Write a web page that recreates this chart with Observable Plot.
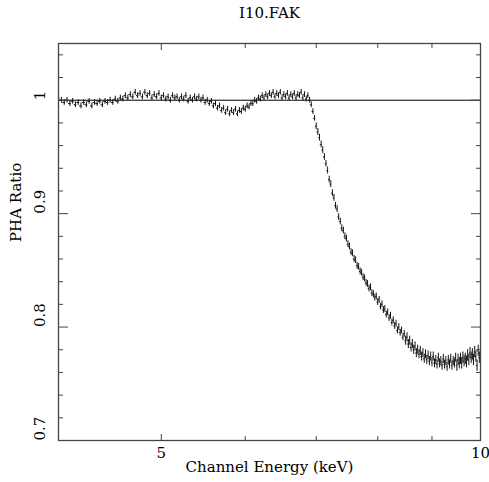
<!DOCTYPE html>
<html><head><meta charset="utf-8">
<script src="https://cdn.jsdelivr.net/npm/d3@7"></script>
<script src="https://cdn.jsdelivr.net/npm/@observablehq/plot@0.6"></script>
<style>html,body{margin:0;padding:0;background:#fff}svg{display:block}</style>
</head><body><div id="chart"></div>
<script>
// Channel energies (keV)
const energy = [
 4.000,4.025,4.050,4.075,4.100,4.125,4.150,4.175,
 4.200,4.225,4.250,4.275,4.300,4.325,4.350,4.375,
 4.400,4.425,4.450,4.475,4.500,4.525,4.550,4.575,
 4.600,4.625,4.650,4.675,4.700,4.725,4.750,4.775,
 4.800,4.825,4.850,4.875,4.900,4.925,4.950,4.975,
 5.000,5.025,5.050,5.075,5.100,5.125,5.150,5.175,
 5.200,5.225,5.250,5.275,5.300,5.325,5.350,5.375,
 5.400,5.425,5.450,5.475,5.500,5.525,5.550,5.575,
 5.600,5.625,5.650,5.675,5.700,5.725,5.750,5.775,
 5.800,5.825,5.850,5.875,5.900,5.925,5.950,5.975,
 6.000,6.025,6.050,6.075,6.100,6.125,6.150,6.175,
 6.200,6.225,6.250,6.275,6.300,6.325,6.350,6.375,
 6.400,6.425,6.450,6.475,6.500,6.525,6.550,6.575,
 6.600,6.625,6.650,6.675,6.700,6.725,6.750,6.775,
 6.800,6.825,6.850,6.875,6.900,6.925,6.950,6.975,
 7.000,7.025,7.050,7.075,7.100,7.125,7.150,7.175,
 7.200,7.225,7.250,7.275,7.300,7.325,7.350,7.375,
 7.400,7.425,7.450,7.475,7.500,7.525,7.550,7.575,
 7.600,7.625,7.650,7.675,7.700,7.725,7.750,7.775,
 7.800,7.825,7.850,7.875,7.900,7.925,7.950,7.975,
 8.000,8.025,8.050,8.075,8.100,8.125,8.150,8.175,
 8.200,8.225,8.250,8.275,8.300,8.325,8.350,8.375,
 8.400,8.425,8.450,8.475,8.500,8.525,8.550,8.575,
 8.600,8.625,8.650,8.675,8.700,8.725,8.750,8.775,
 8.800,8.825,8.850,8.875,8.900,8.925,8.950,8.975,
 9.000,9.025,9.050,9.075,9.100,9.125,9.150,9.175,
 9.200,9.225,9.250,9.275,9.300,9.325,9.350,9.375,
 9.400,9.425,9.450,9.475,9.500,9.525,9.550,9.575,
 9.600,9.625,9.650,9.675,9.700,9.725,9.750,9.775,
 9.800,9.825,9.850,9.875,9.900,9.925,9.950,9.975,
 10.000
];
// PHA ratio per channel
const ratio = [
 1.002,1.000,0.998,1.000,0.997,0.999,0.996,0.998,
 0.995,0.998,0.996,0.999,0.995,0.998,0.997,0.999,
 0.996,0.999,0.998,1.000,0.998,1.001,0.999,1.002,
 1.001,1.004,1.002,1.005,1.003,1.007,1.004,1.006,
 1.003,1.007,1.004,1.006,1.002,1.005,1.003,1.006,
 1.002,1.004,1.001,1.003,1.000,1.004,1.002,1.003,
 1.000,1.003,1.001,1.004,0.999,1.002,1.000,1.003,
 1.001,1.003,1.000,1.002,0.998,1.000,0.997,0.999,
 0.995,0.997,0.993,0.995,0.991,0.993,0.989,0.992,
 0.988,0.991,0.989,0.992,0.988,0.991,0.990,0.993,
 0.992,0.995,0.994,0.997,0.997,1.000,0.999,1.002,
 1.001,1.004,1.002,1.005,1.003,1.006,1.004,1.007,
 1.003,1.006,1.004,1.007,1.002,1.005,1.003,1.006,
 1.002,1.005,1.003,1.006,1.002,1.005,1.004,1.007,
 1.002,1.005,1.001,1.004,1.000,0.996,0.990,0.984,
 0.977,0.972,0.967,0.961,0.956,0.950,0.944,0.938,
 0.930,0.926,0.918,0.914,0.907,0.904,0.897,0.893,
 0.887,0.885,0.880,0.878,0.873,0.871,0.866,0.865,
 0.860,0.859,0.854,0.853,0.849,0.848,0.844,0.843,
 0.839,0.838,0.834,0.835,0.830,0.829,0.826,0.827,
 0.822,0.824,0.818,0.820,0.815,0.816,0.811,0.813,
 0.808,0.810,0.804,0.806,0.801,0.803,0.797,0.800,
 0.795,0.797,0.791,0.794,0.788,0.791,0.785,0.788,
 0.782,0.785,0.780,0.783,0.777,0.780,0.776,0.779,
 0.774,0.777,0.772,0.776,0.771,0.775,0.770,0.774,
 0.769,0.774,0.768,0.771,0.767,0.773,0.768,0.770,
 0.766,0.772,0.767,0.770,0.765,0.771,0.767,0.772,
 0.766,0.770,0.768,0.773,0.766,0.771,0.768,0.772,
 0.768,0.773,0.770,0.772,0.769,0.775,0.771,0.777,
 0.773,0.776,0.771,0.778,0.774,0.766,0.779,0.773,
 0.777
];
// 1-sigma error level per energy band (band upper edges in keV)
const errorBandEdges = [7.0, 8.5, 9.5, 10.1];
const errorBandLevels = [0.0025, 0.003, 0.004, 0.005];
const halfBin = 0.0125;
const xMajor = [5, 10];
const xMinor = [6, 7, 8, 9];
const yMajor = [0.7, 0.8, 0.9, 1.0];
const yMinor = [0.72,0.74,0.76,0.78,0.82,0.84,0.86,0.88,0.92,0.94,0.96,0.98,1.02,1.04];
const refLine = [1];
const titleText = "I10.FAK";
const xLabel = "Channel Energy (keV)";
const yLabel = "PHA Ratio";

const errFor = e => errorBandLevels[errorBandEdges.findIndex(b => e < b)];
const data = energy.map((e, i) => ({e, r: ratio[i], s: errFor(e)}));
const ff = "DejaVu Serif";
const fs = 15;

const chart = Plot.plot({
  width: 489, height: 482,
  marginLeft: 58, marginRight: 9, marginTop: 43, marginBottom: 42,
  style: {fontFamily: ff, fontSize: fs + "px", background: "#fff", color: "#000"},
  x: {type: "log", domain: [4, 10]},
  y: {domain: [0.7, 1.05]},
  marks: [
    Plot.ruleY(refLine, {y: d => d, stroke: "#000", strokeWidth: 1}),
    Plot.ruleX(data, {x: "e", y1: d => d.r - d.s, y2: d => d.r + d.s, stroke: "#111", strokeWidth: 1, clip: true}),
    Plot.ruleY(data, {y: "r", x1: d => d.e - halfBin, x2: d => d.e + halfBin, stroke: "#111", strokeWidth: 1, clip: true}),
    Plot.frame({stroke: "#444", strokeWidth: 1.3}),
    Plot.axisX(xMinor, {anchor: "bottom", tickSize: -4, fill: "none", label: null, stroke: "#444"}),
    Plot.axisX(xMajor, {anchor: "bottom", tickSize: -6, fill: "none", label: null, stroke: "#444"}),
    Plot.axisX(xMinor, {anchor: "top", tickSize: -4, fill: "none", label: null, stroke: "#444"}),
    Plot.axisX(xMajor, {anchor: "top", tickSize: -6, fill: "none", label: null, stroke: "#444"}),
    Plot.axisY(yMinor, {anchor: "left", tickSize: -5, fill: "none", label: null, stroke: "#444"}),
    Plot.axisY(yMajor, {anchor: "left", tickSize: -10, fill: "none", label: null, stroke: "#444"}),
    Plot.axisY(yMinor, {anchor: "right", tickSize: -5, fill: "none", label: null, stroke: "#444"}),
    Plot.axisY(yMajor, {anchor: "right", tickSize: -10, fill: "none", label: null, stroke: "#444"}),
    Plot.text(xMajor, {x: d => d, frameAnchor: "bottom", dy: 13, lineAnchor: "middle", text: d => String(d), fontSize: fs}),
    Plot.text(yMajor, {y: d => d, frameAnchor: "left", dx: -18, rotate: -90, lineAnchor: "middle", text: d => String(d), fontSize: fs}),
    Plot.text([titleText], {frameAnchor: "top", dy: -30, lineAnchor: "middle", text: d => d, fontSize: fs}),
    Plot.text([xLabel], {frameAnchor: "bottom", dy: 27, lineAnchor: "middle", text: d => d, fontSize: fs}),
    Plot.text([yLabel], {frameAnchor: "left", dx: -42, rotate: -90, lineAnchor: "middle", text: d => d, fontSize: fs})
  ]
});
document.getElementById("chart").appendChild(chart);
</script>
</body></html>
